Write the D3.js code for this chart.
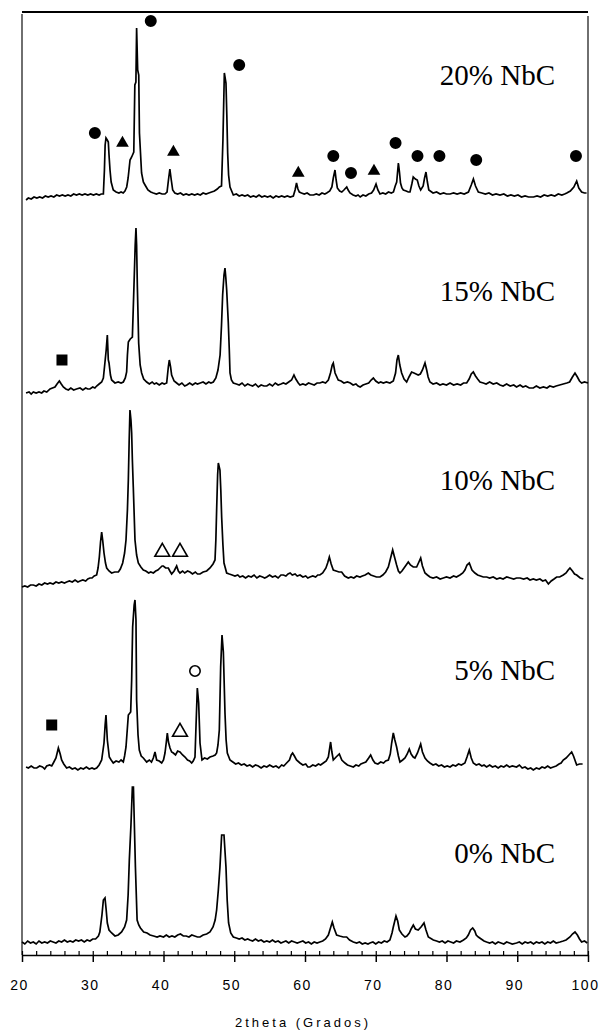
<!DOCTYPE html>
<html>
<head>
<meta charset="utf-8">
<script src="https://cdn.jsdelivr.net/npm/d3@7"></script>
<style>
  body { margin: 0; background: #fff; }
  .trace { fill: none; stroke: #000; stroke-width: 1.7; stroke-linejoin: miter; }
  .tick text { font-family: "Liberation Sans", Arial, sans-serif; font-size: 14px; letter-spacing: 1.5px; }
  .label { font-family: "Liberation Serif", "Times New Roman", serif; font-size: 29px; }
</style>
</head>
<body>
<div id="chart"></div>
<script>
// ---- data: [2theta, intensity (a.u.)] ----
var xrd0 = [[20.0,3],[20.4,1],[20.8,4],[21.2,2],[21.6,3],[22.0,1],[22.4,4],[22.8,2],[23.2,3],[23.6,2],[24.0,4],[24.4,3],[24.8,2],[25.2,4],[25.6,3],[26.0,5],[26.4,3],[26.8,4],[27.2,3],[27.6,5],[28.0,4],[28.4,5],[28.8,3],[29.2,5],[29.6,4],[30.0,6],[30.4,6],[30.8,9],[31.0,13],[31.3,30],[31.5,45],[31.73,47],[31.9,35],[32.06,22],[32.3,15],[32.67,12],[33.14,9],[33.6,10],[34.08,13],[34.5,18],[34.79,25],[35.0,50],[35.17,85],[35.4,120],[35.6,158],[35.75,158],[35.9,115],[36.03,78],[36.27,25],[36.5,20],[36.74,17],[37.2,13],[37.68,12],[38.1,10],[38.6,9],[39.1,8],[39.5,9],[40.0,8],[40.4,10],[40.8,8],[41.2,9],[41.6,8],[42.0,10],[42.4,11],[42.8,9],[43.2,9],[43.6,8],[44.0,10],[44.4,9],[44.8,8],[45.16,8],[45.6,10],[46.1,11],[46.57,13],[47.0,18],[47.3,25],[47.51,35],[47.75,55],[47.98,78],[48.22,110],[48.55,110],[48.83,78],[49.0,45],[49.2,22],[49.5,12],[49.87,8],[50.3,7],[50.7,6],[51.1,7],[51.5,5],[51.9,6],[52.2,5],[52.6,4],[53.0,6],[53.4,4],[53.8,5],[54.2,3],[54.6,4],[55.0,3],[55.4,5],[55.8,3],[56.2,4],[56.6,2],[56.94,3],[57.3,4],[57.7,2],[58.1,4],[58.5,3],[58.9,2],[59.3,3],[59.7,4],[60.1,2],[60.5,3],[60.9,1],[61.3,3],[61.7,2],[62.1,3],[62.5,4],[62.9,6],[63.3,10],[63.6,17],[63.86,23],[64.1,17],[64.47,10],[64.9,9],[65.4,8],[65.89,8],[66.3,5],[66.83,3],[67.3,2],[67.7,3],[68.1,1],[68.5,2],[68.9,1],[69.18,2],[69.6,3],[70.0,1],[70.4,3],[70.8,2],[71.2,4],[71.6,3],[72.0,5],[72.3,12],[72.48,18],[72.86,29],[73.1,24],[73.33,15],[73.7,11],[74.13,8],[74.4,9],[74.74,12],[75.0,16],[75.31,20],[75.6,16],[76.0,15],[76.4,18],[76.82,22],[77.1,15],[77.43,8],[78.14,5],[78.6,4],[79.0,3],[79.4,4],[79.8,2],[80.2,4],[80.6,3],[81.0,2],[81.4,4],[81.9,3],[82.4,5],[82.8,7],[83.08,10],[83.4,15],[83.7,17],[84.0,14],[84.2,10],[84.5,8],[84.9,6],[85.3,4],[85.67,3],[86.1,2],[86.5,3],[86.9,1],[87.3,3],[87.7,2],[88.1,1],[88.5,3],[88.9,2],[89.3,1],[89.9,2],[90.3,3],[90.7,1],[91.1,3],[91.5,2],[91.9,3],[92.3,1],[92.7,3],[93.1,2],[93.5,3],[93.9,1],[94.3,3],[94.7,2],[95.1,4],[95.5,2],[96.04,3],[96.5,4],[96.9,5],[97.45,8],[97.8,11],[98.16,13],[98.5,10],[98.8,6],[99.1,3],[99.5,4],[99.9,2]];

var xrd5 = [[20.57,3],[20.9,2],[21.3,4],[21.7,2],[22.08,2],[22.5,4],[22.9,3],[23.2,1],[23.49,4],[23.9,5],[24.2,4],[24.43,7],[24.8,12],[25.14,22],[25.4,16],[25.6,10],[25.9,6],[26.31,2],[26.7,3],[27.1,1],[27.5,2],[27.9,0],[28.3,2],[28.67,1],[29.1,3],[29.5,1],[29.9,2],[30.2,1],[30.55,2],[30.9,5],[31.26,10],[31.59,27],[31.75,45],[31.87,55],[32.06,30],[32.34,13],[32.6,10],[32.9,7],[33.3,9],[33.7,8],[34.0,10],[34.32,8],[34.5,14],[34.7,23],[35.03,55],[35.36,58],[35.5,90],[35.64,143],[35.85,165],[35.97,170],[36.11,150],[36.2,70],[36.4,35],[36.58,20],[36.85,14],[37.15,12],[37.62,8],[38.0,10],[38.3,8],[38.56,12],[38.8,18],[39.03,10],[39.4,9],[39.74,7],[40.0,10],[40.21,17],[40.4,28],[40.54,37],[40.7,28],[40.92,22],[41.15,18],[41.39,17],[41.7,15],[42.0,19],[42.33,18],[42.7,15],[43.04,13],[43.4,10],[43.7,9],[43.98,7],[44.2,9],[44.45,13],[44.6,45],[44.78,82],[44.97,67],[45.1,40],[45.16,27],[45.44,10],[45.8,12],[46.2,11],[46.57,13],[47.0,14],[47.3,15],[47.51,17],[47.7,25],[47.89,40],[48.08,103],[48.27,135],[48.46,118],[48.69,57],[48.85,30],[49.02,17],[49.4,10],[49.8,8],[50.2,6],[50.6,7],[51.0,5],[51.4,6],[51.8,4],[52.2,5],[52.6,3],[53.0,5],[53.4,4],[53.8,2],[54.2,4],[54.6,3],[55.0,5],[55.5,3],[55.9,4],[56.3,2],[56.7,5],[57.0,4],[57.4,7],[57.8,10],[58.05,15],[58.25,17],[58.5,14],[58.8,10],[59.29,7],[59.7,5],[60.1,6],[60.4,3],[60.7,3],[61.1,5],[61.5,4],[61.9,6],[62.2,5],[62.59,7],[63.0,9],[63.3,13],[63.62,28],[63.8,18],[64.0,10],[64.4,13],[64.85,16],[65.2,10],[65.65,7],[66.0,5],[66.4,4],[66.83,3],[67.2,5],[67.6,4],[67.9,6],[68.24,7],[68.6,8],[69.0,12],[69.28,15],[69.6,10],[69.89,7],[70.3,6],[70.7,8],[71.1,7],[71.4,9],[71.78,10],[72.05,16],[72.25,27],[72.48,37],[72.7,30],[72.95,23],[73.2,14],[73.42,8],[73.8,10],[74.13,12],[74.45,16],[74.74,21],[75.0,16],[75.3,13],[75.54,12],[75.9,17],[76.15,22],[76.35,26],[76.6,18],[76.96,12],[77.3,9],[77.66,7],[78.1,5],[78.5,6],[78.9,4],[79.3,5],[79.7,3],[80.1,4],[80.5,3],[80.9,5],[81.3,4],[81.7,6],[82.1,5],[82.6,7],[82.9,13],[83.22,20],[83.5,12],[83.79,7],[84.2,5],[84.6,6],[85.0,4],[85.3,5],[85.67,3],[86.1,5],[86.5,3],[86.9,4],[87.3,2],[87.7,4],[88.1,3],[88.5,5],[88.9,3],[89.3,4],[89.9,3],[90.3,5],[90.7,2],[91.1,3],[91.5,1],[91.9,2],[92.27,0],[92.7,2],[93.1,1],[93.5,3],[93.9,2],[94.3,4],[94.7,2],[95.1,3],[95.5,4],[95.9,6],[96.2,7],[96.5,10],[96.9,12],[97.3,15],[97.69,18],[97.95,14],[98.2,9],[98.4,5],[98.8,6],[99.24,6]];

var xrd10 = [[20.0,3],[20.4,4],[20.8,3],[21.2,5],[21.6,5],[22.0,4],[22.4,6],[22.8,5],[23.2,7],[23.6,6],[23.96,7],[24.4,6],[24.8,8],[25.2,7],[25.6,8],[26.0,7],[26.31,8],[26.7,9],[27.1,8],[27.5,10],[27.9,8],[28.2,9],[28.6,10],[29.0,9],[29.3,11],[29.6,12],[29.9,12],[30.2,14],[30.55,15],[30.75,22],[30.93,33],[31.1,48],[31.26,58],[31.4,50],[31.59,37],[31.8,27],[31.97,22],[32.3,19],[32.67,17],[33.1,18],[33.62,18],[33.9,21],[34.23,27],[34.5,37],[34.7,50],[34.9,80],[35.03,110],[35.15,150],[35.26,180],[35.4,170],[35.5,157],[35.6,130],[35.73,103],[35.97,50],[36.2,35],[36.44,27],[36.8,23],[37.15,20],[37.5,19],[37.9,17],[38.2,18],[38.56,17],[38.9,19],[39.2,20],[39.5,22],[39.8,24],[39.98,24],[40.3,22],[40.68,22],[40.9,19],[41.15,16],[41.5,19],[41.86,24],[42.1,19],[42.33,17],[42.7,19],[43.0,17],[43.4,19],[43.74,18],[44.1,16],[44.5,18],[44.8,16],[45.16,16],[45.6,18],[46.1,19],[46.57,22],[47.0,26],[47.28,30],[47.4,50],[47.51,80],[47.65,115],[47.75,127],[47.98,120],[48.1,100],[48.22,73],[48.4,45],[48.55,27],[48.93,17],[49.3,16],[49.7,15],[50.1,14],[50.5,15],[50.8,13],[51.2,14],[51.6,12],[52.0,14],[52.4,13],[52.8,15],[53.2,12],[53.6,14],[54.0,13],[54.3,12],[54.6,13],[55.0,15],[55.4,13],[55.8,14],[56.2,12],[56.6,15],[56.94,15],[57.3,14],[57.6,16],[57.9,17],[58.2,15],[58.6,16],[58.9,14],[59.3,15],[59.7,13],[60.1,14],[60.4,12],[60.7,13],[61.1,14],[61.5,13],[61.8,15],[62.1,15],[62.5,17],[62.96,22],[63.2,27],[63.44,33],[63.7,26],[64.0,20],[64.4,19],[64.8,18],[65.18,18],[65.6,14],[66.12,12],[66.5,13],[66.9,12],[67.3,14],[67.77,13],[68.1,14],[68.5,15],[68.95,17],[69.3,15],[69.7,14],[70.1,13],[70.6,13],[71.0,15],[71.4,18],[71.78,23],[72.1,32],[72.39,40],[72.65,33],[72.95,25],[73.2,19],[73.42,17],[73.7,19],[74.0,22],[74.3,25],[74.6,28],[74.9,25],[75.3,23],[75.78,23],[76.1,28],[76.35,32],[76.6,24],[76.96,17],[77.3,15],[77.66,13],[78.1,12],[78.6,13],[79.1,11],[79.55,12],[80.0,13],[80.5,12],[81.0,14],[81.4,13],[81.9,15],[82.3,17],[82.6,20],[82.9,25],[83.22,27],[83.6,20],[84.02,17],[84.4,15],[84.8,14],[85.2,13],[85.67,13],[86.1,12],[86.6,13],[87.1,11],[87.56,12],[88.0,11],[88.5,13],[89.0,12],[89.5,11],[89.9,12],[90.4,12],[90.9,11],[91.4,12],[91.8,10],[92.27,11],[92.7,10],[93.2,11],[93.6,9],[94.0,10],[94.4,6],[94.8,9],[95.2,11],[95.57,13],[96.0,13],[96.5,15],[96.9,17],[97.2,20],[97.45,22],[97.8,19],[98.1,16],[98.4,15],[98.9,12],[99.34,11]];

var xrd15 = [[20.57,2],[21.0,3],[21.3,1],[21.6,3],[22.0,2],[22.4,3],[22.78,2],[23.1,4],[23.5,3],[23.96,6],[24.3,7],[24.66,8],[24.95,11],[25.28,14],[25.55,11],[25.84,8],[26.2,6],[26.55,5],[26.9,7],[27.3,5],[27.7,6],[28.2,7],[28.6,5],[29.0,7],[29.3,6],[29.6,6],[30.0,8],[30.3,7],[30.55,9],[30.9,11],[31.26,13],[31.5,17],[31.73,33],[31.9,45],[32.06,60],[32.2,35],[32.3,32],[32.5,20],[32.67,15],[33.14,12],[33.6,13],[34.0,12],[34.32,13],[34.6,17],[34.79,23],[34.9,40],[35.03,53],[35.3,56],[35.6,58],[35.72,85],[35.83,110],[36.0,150],[36.11,167],[36.2,150],[36.3,110],[36.49,52],[36.7,30],[36.91,22],[37.2,16],[37.62,13],[38.0,11],[38.4,13],[38.7,11],[39.0,12],[39.4,10],[39.8,12],[40.1,11],[40.45,12],[40.68,28],[40.82,35],[41.0,28],[41.15,20],[41.5,14],[41.86,12],[42.2,10],[42.6,12],[43.0,9],[43.3,10],[43.7,12],[44.1,10],[44.5,12],[44.8,11],[45.2,12],[45.6,13],[46.0,11],[46.4,13],[46.7,12],[47.04,13],[47.4,17],[47.7,25],[48.0,40],[48.2,70],[48.36,100],[48.55,120],[48.69,127],[48.8,118],[48.93,105],[49.16,72],[49.3,45],[49.4,22],[49.6,15],[49.87,12],[50.3,11],[50.7,10],[51.1,12],[51.5,9],[51.9,11],[52.2,10],[52.6,9],[53.0,11],[53.4,8],[53.8,10],[54.2,9],[54.6,9],[55.0,11],[55.4,9],[55.8,12],[56.2,10],[56.6,11],[56.94,12],[57.3,11],[57.7,13],[58.1,15],[58.44,20],[58.7,16],[59.05,12],[59.29,10],[59.7,11],[60.1,10],[60.5,12],[60.9,11],[61.3,10],[61.7,12],[62.1,12],[62.5,13],[62.9,12],[63.3,15],[63.6,22],[63.85,30],[64.0,32],[64.25,22],[64.7,15],[65.1,14],[65.5,12],[66.0,13],[66.4,12],[66.8,10],[67.2,11],[67.5,9],[67.8,8],[68.2,10],[68.6,11],[69.0,12],[69.35,15],[69.66,17],[70.0,14],[70.4,12],[70.7,13],[71.07,12],[71.5,13],[72.0,12],[72.48,14],[72.8,22],[73.0,35],[73.19,40],[73.4,30],[73.66,22],[74.0,16],[74.37,13],[74.7,18],[75.07,23],[75.4,22],[75.7,21],[76.0,20],[76.3,21],[76.6,25],[76.96,32],[77.2,25],[77.4,18],[77.66,13],[78.1,11],[78.6,12],[79.08,10],[79.5,11],[80.0,10],[80.5,12],[81.0,10],[81.5,11],[82.0,10],[82.4,12],[82.85,12],[83.2,16],[83.5,21],[83.79,23],[84.1,19],[84.4,16],[84.73,13],[85.2,12],[85.6,11],[86.1,13],[86.6,11],[87.1,12],[87.56,10],[88.0,9],[88.5,11],[89.0,9],[89.5,10],[89.9,8],[90.4,10],[90.8,8],[91.2,9],[91.7,7],[92.27,7],[92.7,9],[93.2,7],[93.7,8],[94.2,7],[94.6,9],[95.1,8],[95.5,9],[96.0,10],[96.5,11],[97.0,12],[97.4,13],[97.8,18],[98.16,22],[98.5,18],[98.8,14],[99.1,12],[99.5,13],[100.0,12]];

var xrd20 = [[20.57,0],[20.9,2],[21.3,1],[21.7,3],[22.1,2],[22.5,3],[22.9,2],[23.3,4],[23.7,3],[24.1,4],[24.5,3],[24.9,5],[25.3,4],[25.7,5],[26.1,4],[26.5,5],[26.9,4],[27.3,6],[27.7,5],[28.1,6],[28.5,5],[28.9,6],[29.3,5],[29.7,6],[30.1,5],[30.5,6],[30.9,5],[31.2,6],[31.5,6],[31.65,30],[31.75,55],[31.87,62],[32.05,60],[32.2,58],[32.3,45],[32.44,30],[32.6,18],[32.9,10],[33.3,8],[33.7,7],[34.0,8],[34.3,7],[34.55,9],[34.8,13],[35.0,22],[35.27,40],[35.5,43],[35.8,48],[35.95,115],[36.1,118],[36.2,172],[36.35,130],[36.5,125],[36.6,67],[36.9,27],[37.15,18],[37.39,15],[37.8,10],[38.2,8],[38.56,7],[39.0,6],[39.4,7],[39.8,6],[40.2,6],[40.5,8],[40.7,20],[40.9,31],[41.1,20],[41.3,10],[41.6,7],[42.0,6],[42.4,7],[42.8,5],[43.2,6],[43.6,5],[44.0,6],[44.4,5],[44.8,6],[45.2,5],[45.6,7],[46.0,6],[46.4,7],[46.8,8],[47.2,9],[47.6,11],[47.9,13],[48.2,14],[48.4,60],[48.6,127],[48.83,117],[48.95,85],[49.07,47],[49.2,25],[49.4,13],[49.87,5],[50.3,6],[50.7,4],[51.1,5],[51.5,4],[51.9,5],[52.3,3],[52.7,4],[53.1,3],[53.5,5],[53.9,3],[54.3,4],[54.7,3],[55.1,4],[55.5,2],[55.9,4],[56.3,3],[56.7,4],[57.1,3],[57.5,4],[57.9,3],[58.35,4],[58.6,10],[58.8,17],[59.0,11],[59.2,8],[59.5,7],[59.9,6],[60.3,7],[60.7,5],[61.2,5],[61.6,6],[62.0,5],[62.4,7],[62.8,6],[63.07,7],[63.5,9],[63.8,13],[64.0,22],[64.24,30],[64.4,20],[64.57,12],[64.9,9],[65.2,8],[65.5,10],[65.9,13],[66.1,10],[66.36,7],[66.8,5],[67.2,4],[67.5,5],[67.8,3],[68.2,5],[68.6,4],[69.0,6],[69.4,7],[69.7,10],[70.04,16],[70.3,10],[70.6,6],[71.0,7],[71.4,6],[71.8,8],[72.2,7],[72.5,8],[72.75,14],[72.96,18],[73.2,37],[73.35,28],[73.5,17],[73.7,12],[73.9,10],[74.3,9],[74.6,8],[74.84,8],[75.1,16],[75.3,23],[75.6,21],[75.87,20],[76.1,14],[76.35,10],[76.7,14],[76.9,22],[77.1,28],[77.3,18],[77.5,10],[78.1,7],[78.6,8],[79.1,6],[79.6,7],[80.0,6],[80.5,6],[81.0,7],[81.5,6],[82.0,7],[82.5,6],[83.1,8],[83.5,15],[83.8,21],[84.1,14],[84.5,8],[85.0,7],[85.5,6],[86.0,7],[86.5,5],[87.0,6],[87.56,5],[88.1,6],[88.6,4],[89.1,5],[89.6,4],[90.1,5],[90.6,3],[91.1,4],[91.6,3],[92.3,3],[92.8,4],[93.3,3],[93.8,5],[94.3,4],[94.8,5],[95.3,4],[95.8,6],[96.3,5],[96.7,6],[97.0,7],[97.5,9],[98.0,13],[98.4,19],[98.7,12],[99.1,8],[99.5,7],[99.8,7]];

var sampleNames = ["0% NbC", "5% NbC", "10% NbC", "15% NbC", "20% NbC"];
var stackOffsets = [10, 185, 365, 560, 755];   // vertical shift of each pattern (a.u.)

// phase markers: [2theta, intensity above the pattern's own base, pattern index]
var filledCircles = [[30.3,67,4],[38.2,179,4],[50.7,135,4],[64.0,44,4],[66.5,27,4],[72.8,57,4],[75.9,44,4],[79.0,44,4],[84.2,40,4],[98.3,44,4]];
var filledTriangles = [[34.2,57,4],[41.4,48,4],[59.05,27,4],[69.75,29,4]];
var filledSquares = [[25.65,35,3],[24.2,45,1]];
var openTriangles = [[39.83,38,2],[42.33,38,2],[42.33,38,1]];
var openCircles = [[44.45,99,1]];

var xTicks = [20, 30, 40, 50, 60, 70, 80, 90, 100];

// ---- layout ----
var margin = {top: 12, right: 13, bottom: 76, left: 22},
    width = 601 - margin.left - margin.right,
    height = 1031 - margin.top - margin.bottom;

var svg = d3.select("#chart")
    .append("svg")
        .attr("width", width + margin.left + margin.right)
        .attr("height", height + margin.top + margin.bottom)
    .append("g")
        .attr("transform", "translate(" + margin.left + "," + margin.top + ")");

var x = d3.scaleLinear()
        .domain([20, 100])
        .range([0, width]);

var y = d3.scaleLinear()
        .domain([0, 943])
        .range([height, 0]);

var series = [xrd0, xrd5, xrd10, xrd15, xrd20];

// frame
svg.append("line").attr("x1", 0).attr("x2", width).attr("y1", 0).attr("y2", 0)
    .attr("stroke", "#000").attr("stroke-width", 2);
svg.append("line").attr("x1", 0).attr("x2", 0).attr("y1", 2).attr("y2", height)
    .attr("stroke", "#222").attr("stroke-width", 1.3);
svg.append("line").attr("x1", width).attr("x2", width).attr("y1", 4).attr("y2", height)
    .attr("stroke", "#222").attr("stroke-width", 1.3);

// traces
series.forEach(function(data, i) {
    svg.append("path")
        .attr("class", "trace")
        .datum(data)
        .attr("d", d3.line()
            .x(function(d) { return x(d[0]) })
            .y(function(d) { return y(d[1] + stackOffsets[i]) })
        );
});

// sample labels
var labelY = [851, 668, 478, 289, 73];
sampleNames.forEach(function(name, i) {
    svg.append("text")
        .attr("class", "label")
        .attr("x", 533)
        .attr("y", labelY[i])
        .attr("text-anchor", "end")
        .text(name);
});

// markers
function drawMarkers(list, type, size, filled) {
    svg.selectAll(null)
        .data(list)
        .enter().append("path")
        .attr("d", d3.symbol().type(type).size(size))
        .attr("transform", function(d) {
            return "translate(" + x(d[0]) + "," + y(d[1] + stackOffsets[d[2]]) + ")";
        })
        .attr("fill", filled ? "#000" : "#fff")
        .attr("stroke", "#000")
        .attr("stroke-width", filled ? 0 : 1.6);
}

drawMarkers(filledCircles, d3.symbolCircle, 113, true);
drawMarkers(filledTriangles, d3.symbolTriangle, 70, true);
drawMarkers(filledSquares, d3.symbolSquare, 121, true);
drawMarkers(openTriangles, d3.symbolTriangle, 95, false);
drawMarkers(openCircles, d3.symbolCircle, 85, false);

// x axis: major ticks down, minor ticks up
var axis = svg.append("g")
    .attr("transform", "translate(0," + height + ")")
    .call(d3.axisBottom(x).tickValues(xTicks).tickSize(7).tickSizeOuter(0).tickPadding(18));
axis.select(".domain").attr("stroke-width", 1.5);
axis.selectAll(".tick line").attr("stroke-width", 1.5);
axis.selectAll(".tick text").attr("dx", "-3");

var minor = svg.append("g")
    .attr("transform", "translate(0," + height + ")")
    .call(d3.axisTop(x).tickValues(d3.range(20, 101, 2)).tickSize(4).tickSizeOuter(0).tickFormat(""));
minor.select(".domain").remove();
minor.selectAll(".tick line").attr("stroke-width", 1.2);

svg.append("text")
    .attr("x", 281)
    .attr("y", height + 72)
    .attr("text-anchor", "middle")
    .style("font-family", "'Liberation Sans', Arial, sans-serif")
    .style("font-size", "13px")
    .style("letter-spacing", "3px")
    .text("2theta (Grados)");
</script>
</body>
</html>
